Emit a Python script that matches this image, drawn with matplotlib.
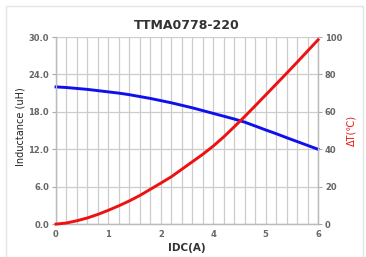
import matplotlib
matplotlib.use('Agg')
import matplotlib.pyplot as plt
import numpy as np
from matplotlib.patches import Rectangle

# 26 category points, only every 5th one is labelled (the chart labels skip "3")
x_labels = ['0', '1', '2', '4', '5', '6']
inductance = [22.0, 21.9, 21.75, 21.6, 21.4, 21.2, 21.0, 20.75, 20.45, 20.15,
              19.8, 19.45, 19.05, 18.65, 18.2, 17.75, 17.3, 16.85, 16.35, 15.73,
              15.1, 14.5, 13.86, 13.24, 12.62, 12.0]
delta_t = [0.0, 0.6, 1.8, 3.3, 5.2, 7.4, 9.8, 12.4, 15.3, 18.6,
           21.9, 25.3, 29.3, 33.3, 37.3, 41.7, 46.6, 52.0, 57.5, 63.2,
           69.0, 74.8, 80.6, 86.5, 92.5, 98.5]

x = np.arange(len(inductance))
tick_col = '#666666'

fig = plt.figure(figsize=(3.66, 2.57), dpi=100)
fig.patches.append(Rectangle((0.016, -0.05), 0.975, 1.025, transform=fig.transFigure,
                             fill=False, edgecolor='#e4e4e4', linewidth=1))

ax = fig.add_axes([0.153, 0.128, 0.716, 0.728])
ax2 = ax.twinx()

ax.plot(x, inductance, color='#1010ee', linewidth=2.1, zorder=3, clip_on=False)
ax2.plot(x, delta_t, color='#ee1111', linewidth=2.1, zorder=3, clip_on=False)

ax.set_xlim(0, len(x) - 1)
ax.set_ylim(0, 30)
ax2.set_ylim(0, 100)
ax.set_xticks(x, minor=True)
ax.set_xticks(x[::5])
ax.set_xticklabels(x_labels)
ax.set_yticks(np.arange(0, 31, 6))
ax.set_yticklabels(['%.1f' % v for v in np.arange(0, 31, 6)])
ax2.set_yticks(np.arange(0, 101, 20))

ax.grid(True, which='both', axis='x', color='#cccccc', linewidth=0.9)
ax.grid(True, which='major', axis='y', color='#cccccc', linewidth=0.9)
ax.set_axisbelow(True)
ax.tick_params(axis='x', which='both', length=0, pad=4)
ax.tick_params(axis='y', length=3, width=0.8, color='#aaaaaa', pad=2)
ax2.tick_params(axis='y', length=3, width=0.8, color='#aaaaaa', pad=2)
for lab in ax.get_xticklabels() + ax.get_yticklabels() + ax2.get_yticklabels():
    lab.set_fontsize(6)
    lab.set_color(tick_col)
    lab.set_fontweight('bold')

for a in (ax, ax2):
    a.spines['top'].set_visible(False)
    for s in ('left', 'right', 'bottom'):
        a.spines[s].set_color('#bbbbbb')
        a.spines[s].set_linewidth(0.9)

ax.set_title('TTMA0778-220', fontsize=9, fontweight='bold', color='#333333', pad=6)
ax.set_xlabel('IDC(A)', fontsize=7.5, fontweight='bold', color='#333333', labelpad=3)
ax.set_ylabel('Inductance (uH)', fontsize=7, color='#222222')
ax.yaxis.set_label_coords(-0.118, 0.52)
ax2.set_ylabel('ΔT(℃)', fontsize=7, color='#ee1111',
               family=['DejaVu Sans', 'Noto Sans CJK SC'])
ax2.yaxis.set_label_coords(1.107, 0.5)

fig.savefig('out.png', dpi=100)
